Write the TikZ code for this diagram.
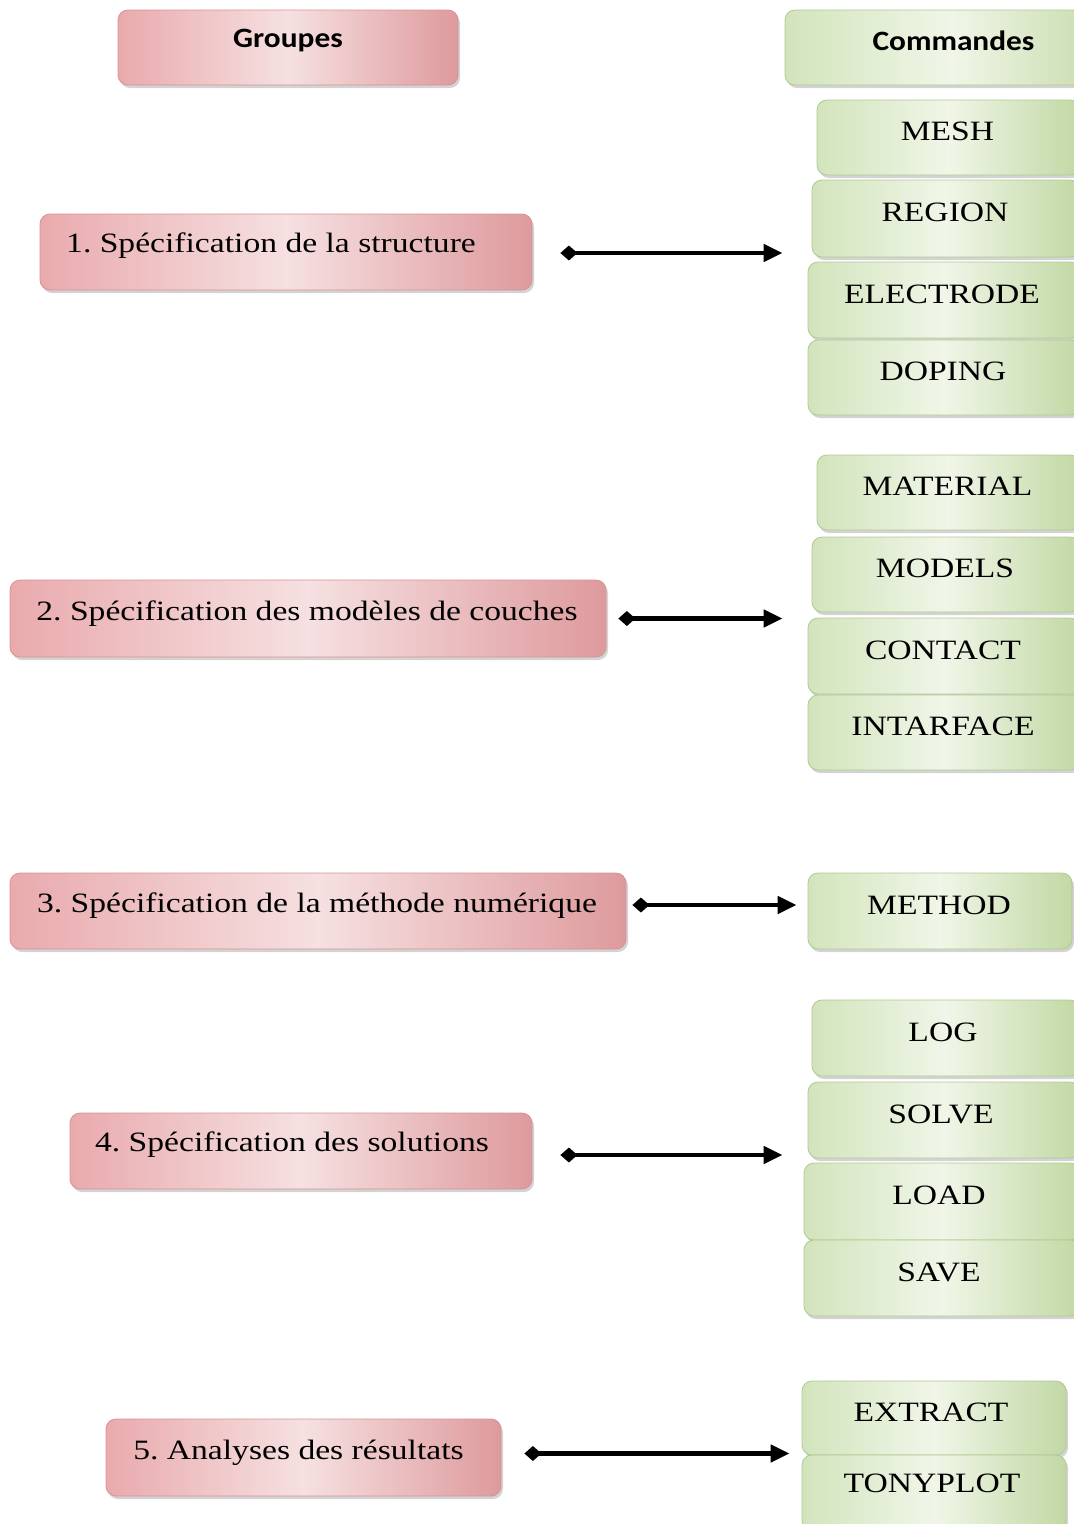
\documentclass[tikz,border=0pt]{standalone}
\usepackage{fontspec}
\newfontfamily\labelfont[FakeStretch=1.2]{Liberation Serif}
\newfontfamily\headfont[FakeStretch=1.12]{Carlito}
\usetikzlibrary{arrows.meta,shadows,calc}
\frenchspacing

\definecolor{pinkEdge}{HTML}{D69396}
\definecolor{pinkL}{HTML}{E9AAAD}
\definecolor{pinkM}{HTML}{F6E0E1}
\definecolor{pinkR}{HTML}{DE9A9D}
\definecolor{greenEdge}{HTML}{B0C992}
\definecolor{greenL}{HTML}{D2E4BC}
\definecolor{greenM}{HTML}{F0F6E8}
\definecolor{greenR}{HTML}{C2D8A4}

\tikzset{
  x=1pt, y=-1pt,
  basebox/.style={rounded corners=10pt, line width=0.8pt, inner sep=0pt,
    drop shadow={opacity=0.35, shadow xshift=2pt, shadow yshift=-3pt}},
  pinkbox/.style={basebox, draw=pinkEdge, left color=pinkL, right color=pinkR, middle color=pinkM},
  greenbox/.style={basebox, draw=greenEdge, left color=greenL, right color=greenR, middle color=greenM},
  labeltext/.style={inner sep=0pt, font=\labelfont\fontsize{28}{32}\selectfont},
  headtext/.style={inner sep=0pt, font=\headfont\bfseries\fontsize{28}{32}\selectfont},
  link/.style={line width=4.5pt, {Diamond[length=17pt,width=15pt]}-{Triangle[length=19pt,width=17pt]}}
}

% box from left, top, right, bottom; label offset from the box centre
\newcommand{\boxat}[9]{%
  \node[#1, minimum width={#5-#3}, minimum height={#6-#4}] (#2) at ({(#3+#5)/2},{(#4+#6)/2}) {};
  \node[#7] (#2t) at ($(#2.center)+(#8)$) {#9};}

\begin{document}
\begin{tikzpicture}
\useasboundingbox (0,0) rectangle (1074,1524);

% group column
\boxat{pinkbox}{hg}{118}{10}{458}{85}{headtext}{0,-7}{Groupes}
\boxat{pinkbox}{g1}{40}{214}{532}{290}{labeltext}{-15,-6}{1. Spécification de la structure}
\boxat{pinkbox}{g2}{10}{580}{606}{657}{labeltext}{-1,-5}{2. Spécification des modèles de couches}
\boxat{pinkbox}{g3}{10}{873}{626}{949}{labeltext}{-1,-5}{3. Spécification de la méthode numérique}
\boxat{pinkbox}{g4}{70}{1113}{532}{1189}{labeltext}{-9,-6}{4. Spécification des solutions}
\boxat{pinkbox}{g5}{106}{1419}{501}{1496}{labeltext}{-5,-5}{5. Analyses des résultats}

% command column
\boxat{greenbox}{hc}{785}{10}{1120}{85}{headtext}{1,-7}{Commandes}
\boxat{greenbox}{mesh}{817}{100}{1080}{175}{labeltext}{-1,-6}{MESH}
\boxat{greenbox}{region}{812}{180}{1080}{257}{labeltext}{-1,-6}{REGION}
\boxat{greenbox}{electrode}{808}{262}{1080}{338}{labeltext}{-2,-6}{ELECTRODE}
\boxat{greenbox}{doping}{808}{340}{1080}{415}{labeltext}{-1,-6}{DOPING}
\boxat{greenbox}{material}{817}{455}{1080}{530}{labeltext}{-1,-6}{MATERIAL}
\boxat{greenbox}{models}{812}{537}{1080}{612}{labeltext}{-1,-6}{MODELS}
\boxat{greenbox}{contact}{808}{618}{1080}{694}{labeltext}{-1,-6}{CONTACT}
\boxat{greenbox}{intarface}{808}{695}{1080}{770}{labeltext}{-1,-6}{INTARFACE}
\boxat{greenbox}{method}{808}{873}{1072}{949}{labeltext}{-1,-6}{METHOD}
\boxat{greenbox}{log}{812}{1000}{1080}{1076}{labeltext}{-3,-6}{LOG}
\boxat{greenbox}{solve}{808}{1082}{1080}{1158}{labeltext}{-3,-6}{SOLVE}
\boxat{greenbox}{load}{804}{1163}{1080}{1240}{labeltext}{-3,-6}{LOAD}
\boxat{greenbox}{save}{804}{1240}{1080}{1316}{labeltext}{-3,-6}{SAVE}
\boxat{greenbox}{extract}{802}{1381}{1066}{1455}{labeltext}{-3,-6}{EXTRACT}
\boxat{greenbox}{tonyplot}{802}{1455}{1066}{1530}{labeltext}{-2,-9}{TONYPLOT}

% connectors
\draw[link] ($(g1.east)+(28,1)$) -- ($(g1.east -| electrode.west)+(-25,1)$);
\draw[link] ($(g2.east)+(12,0)$) -- ($(g2.east -| contact.west)+(-25,0)$);
\draw[link] ($(g3.east)+(6,-6)$) -- ($(g3.east -| method.west)+(-11,-6)$);
\draw[link] ($(g4.east)+(28,4)$) -- ($(g4.east -| load.west)+(-21,4)$);
\draw[link] ($(g5.east)+(23,-4)$) -- ($(g5.east -| extract.west)+(-12,-4)$);
\end{tikzpicture}
\end{document}
